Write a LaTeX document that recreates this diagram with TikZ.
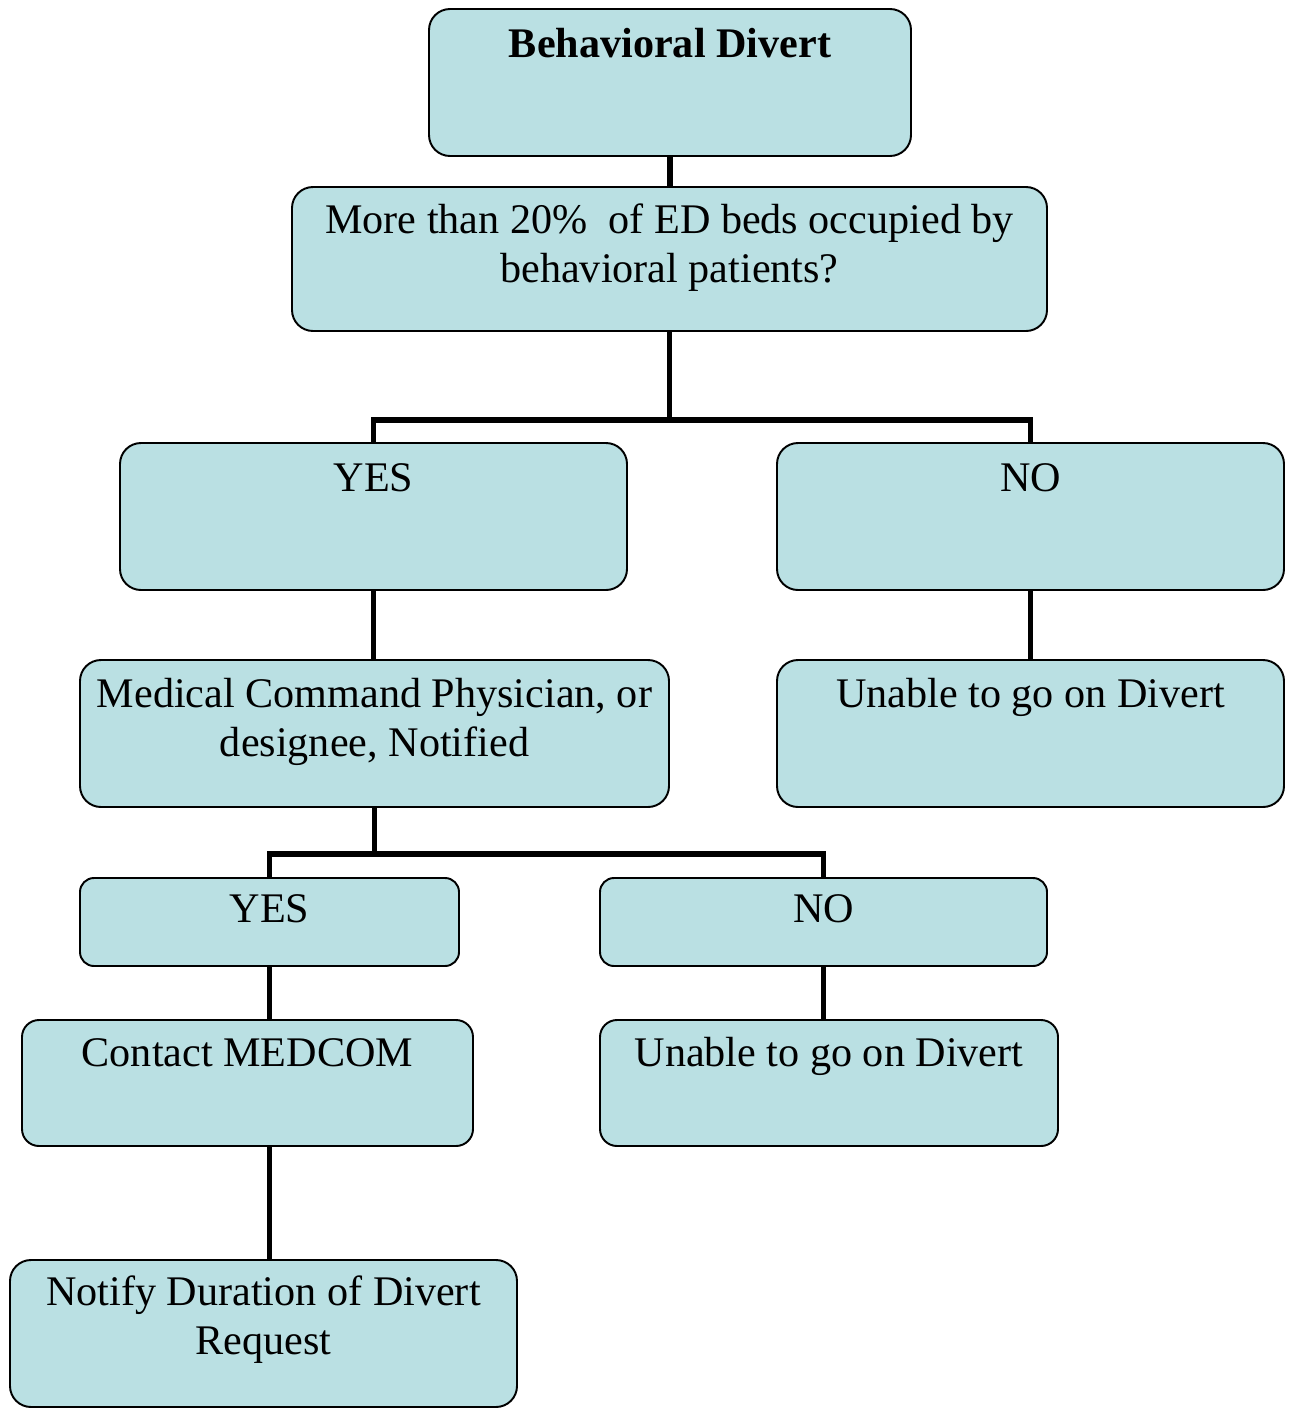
\documentclass[tikz,border=0pt]{standalone}
\usepackage{fontspec}
\setmainfont{Liberation Serif}
\usetikzlibrary{positioning,fit,calc}
\definecolor{celeste}{HTML}{BAE0E3}

\tikzset{
  caja/.style={draw=black,line width=1.1pt,fill=celeste,inner sep=0pt},
  texto/.style={anchor=base,align=center,inner sep=0pt,font=\fontsize{24}{27.9}\selectfont},
  rama/.style={line width=3.1pt}
}

\begin{document}
\begin{tikzpicture}[x=0.02cm,y=-0.02cm]
  \useasboundingbox (0,0) rectangle (1291,1410);
  % cajas: nombre/esquinas/radio/bajada de la ultima linea/texto
  \foreach \nom/\xa/\ya/\xb/\yb/\r/\dy/\txt in {
      divert/429/9/911/156/0.42/0.98/{\textbf{Behavioral Divert}},
      rule/292/187/1047/331/0.42/1.92/{More than 20\% \ of ED beds occupied by\\behavioral patients?},
      yes1/120/443/627/590/0.42/0.98/{YES},
      no1/777/443/1284/590/0.42/0.98/{NO},
      medcmd/80/660/669/807/0.42/1.94/{Medical Command Physician, or\\designee, Notified},
      unable1/777/660/1284/807/0.42/0.96/{Unable to go on Divert},
      yes2/80/878/459/966/0.28/0.9/{YES},
      no2/600/878/1047/966/0.28/0.9/{NO},
      contact/22/1020/473/1146/0.34/0.94/{Contact MEDCOM},
      unable2/600/1020/1058/1146/0.34/0.94/{Unable to go on Divert},
      notify/10/1260/517/1407/0.42/1.9/{Notify Duration of Divert\\Request}}{
    \node[caja,rounded corners=\r cm,fit={(\xa,\ya) (\xb,\yb)}] (\nom) {};
    \node[texto] (\nom-t) at ([yshift=-\dy cm]\nom.north) {\txt};
  }
  % ramas
  \coordinate (split1) at ($(rule.south)+(0,88)$);
  \coordinate (split2) at ($(medcmd.south)+(0,46)$);
  \draw[rama] (divert.south) -- (divert.south |- rule.north);
  \draw[rama] (rule.south) -- (split1) -| (yes1.north);
  \draw[rama] (split1) -| (no1.north);
  \draw[rama] (yes1.south) -- (yes1.south |- medcmd.north);
  \draw[rama] (no1.south) -- (unable1.north);
  \draw[rama] (medcmd.south) -- (split2) -| (yes2.north);
  \draw[rama] (split2) -| (no2.north);
  \draw[rama] (yes2.south) -- (yes2.south |- contact.north);
  \draw[rama] (no2.south) -- (no2.south |- unable2.north);
  \draw[rama] (contact.south -| yes2.south) -- (notify.north -| yes2.south);
\end{tikzpicture}
\end{document}
